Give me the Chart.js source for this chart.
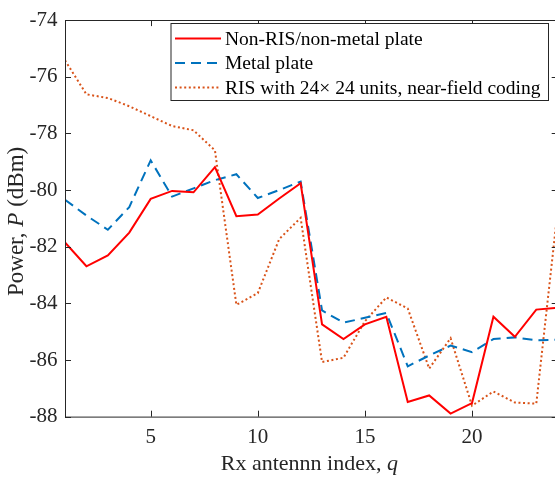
<!DOCTYPE html>
<html><head><meta charset="utf-8">
<script src="https://cdn.jsdelivr.net/npm/chart.js@4/dist/chart.umd.min.js"></script>
<style>html,body{margin:0;padding:0;overflow:hidden;background:#fff;width:555px;height:477px}canvas{display:block}</style>
</head><body>
<canvas id="c" width="560" height="477"></canvas>
<script>
// ---- data ----
const qIndex = [1,2,3,4,5,6,7,8,9,10,11,12,13,14,15,16,17,18,19,20,21,22,23,24];
const nonRIS = [-81.85,-82.69,-82.31,-81.5,-80.31,-80.03,-80.08,-79.19,-80.92,-80.86,-80.3,-79.76,
                -84.74,-85.26,-84.74,-84.47,-87.48,-87.25,-87.89,-87.52,-84.47,-85.18,-84.22,-84.15];
const metalPlate = [-80.34,-80.9,-81.4,-80.6,-78.95,-80.23,-79.94,-79.65,-79.44,-80.28,-80.0,-79.7,
                    -84.25,-84.68,-84.51,-84.34,-86.22,-85.84,-85.49,-85.72,-85.26,-85.2,-85.3,-85.28];
const risCoding = [-75.42,-76.62,-76.75,-77.04,-77.39,-77.74,-77.89,-78.6,-84.05,-83.64,-81.73,-80.98,
                   -86.07,-85.92,-84.63,-83.79,-84.18,-86.3,-85.23,-87.61,-87.11,-87.5,-87.54,-80.7];
const seriesNames = ['Non-RIS/non-metal plate','Metal plate','RIS with 24\u00D7 24 units, near-field coding'];
const xTicks = [5,10,15,20];
const yTicks = [-88,-86,-84,-82,-80,-78,-76,-74];
const xTitle = ['Rx antennn index, ', 'q'];
const yTitle = ['Power, ', 'P', ' (dBm)'];

const FONT = "'Liberation Serif', 'Times New Roman', serif";
const AX = '#262626';
Chart.defaults.font.family = FONT;

const toPts = arr => arr.map((v,i)=>({x:qIndex[i], y:v}));

const framePlugin = {
  id:'frame',
  afterDraw(chart){
    const ctx = chart.ctx, a = chart.chartArea;
    const xs = chart.scales.x, ys = chart.scales.y;
    ctx.save();
    // box
    ctx.strokeStyle = AX; ctx.lineWidth = 1;
    ctx.strokeRect(Math.round(a.left)+0.5, Math.round(a.top)+0.5, a.right-a.left, a.bottom-a.top);
    // inner ticks
    const TL = 6;
    ctx.beginPath();
    xTicks.forEach(v=>{
      const px = Math.round(xs.getPixelForValue(v))+0.5;
      ctx.moveTo(px, a.bottom); ctx.lineTo(px, a.bottom-TL);
      ctx.moveTo(px, a.top); ctx.lineTo(px, a.top+TL);
    });
    yTicks.forEach(v=>{
      const py = Math.round(ys.getPixelForValue(v))+0.5;
      ctx.moveTo(a.left, py); ctx.lineTo(a.left+TL, py);
      ctx.moveTo(a.right, py); ctx.lineTo(a.right-TL, py);
    });
    ctx.stroke();

    // x title
    ctx.fillStyle = AX;
    ctx.textBaseline = 'alphabetic';
    ctx.textAlign = 'left';
    const fN = "22px " + FONT, fI = "italic 22px " + FONT;
    ctx.font = fN; const w0 = ctx.measureText(xTitle[0]).width;
    ctx.font = fI; const w1 = ctx.measureText(xTitle[1]).width;
    let sx = (a.left + a.right)/2 - (w0+w1)/2 - 2;
    ctx.font = fN; ctx.fillText(xTitle[0], sx, 470);
    ctx.font = fI; ctx.fillText(xTitle[1], sx+w0, 470);

    // y title
    const gN = "23px " + FONT, gI = "italic 23px " + FONT;
    ctx.font = gN; const v0 = ctx.measureText(yTitle[0]).width, v2 = ctx.measureText(yTitle[2]).width;
    ctx.font = gI; const v1 = ctx.measureText(yTitle[1]).width;
    ctx.save();
    ctx.translate(23, (a.top+a.bottom)/2 + 3);
    ctx.rotate(-Math.PI/2);
    let ty = -(v0+v1+v2)/2;
    ctx.font = gN; ctx.fillText(yTitle[0], ty, 0);
    ctx.font = gI; ctx.fillText(yTitle[1], ty+v0, 0);
    ctx.font = gN; ctx.fillText(yTitle[2], ty+v0+v1, 0);
    ctx.restore();

    // legend
    const lx = 170.5, ly = 23, lw = 377.5, lh = 77;
    ctx.fillStyle = '#fff';
    ctx.fillRect(lx, ly, lw, lh);
    ctx.strokeStyle = AX; ctx.lineWidth = 1;
    ctx.strokeRect(lx+0.5, ly+0.5, lw, lh);
    const rows = [38.5, 63, 87.5];
    ctx.font = "19.5px " + FONT;
    ctx.textBaseline = 'middle';
    chart.data.datasets.forEach((ds,i)=>{
      const y = rows[i];
      ctx.save();
      ctx.strokeStyle = ds.borderColor; ctx.lineWidth = ds.borderWidth;
      ctx.setLineDash(ds.borderDash || []);
      ctx.lineCap = 'butt';
      ctx.beginPath(); ctx.moveTo(175, y); ctx.lineTo(221, y); ctx.stroke();
      ctx.restore();
      ctx.fillStyle = '#000';
      ctx.fillText(ds.label, 225, y+1);
    });
    ctx.restore();
  }
};

new Chart(document.getElementById('c'), {
  type:'line',
  data:{
    datasets:[
      {label:seriesNames[0], data:toPts(nonRIS), borderColor:'#FF0000', borderWidth:2, pointRadius:0, tension:0, fill:false},
      {label:seriesNames[1], data:toPts(metalPlate), borderColor:'#0072BD', borderWidth:2, borderDash:[10,6], pointRadius:0, tension:0, fill:false},
      {label:seriesNames[2], data:toPts(risCoding), borderColor:'#D95319', borderWidth:2, borderDash:[2,2.6], pointRadius:0, tension:0, fill:false}
    ]
  },
  plugins:[framePlugin],
  options:{
    responsive:false, animation:false, devicePixelRatio:1,
    layout:{padding:{left:0, top:14, right:2.3, bottom:0}},
    plugins:{legend:{display:false}, tooltip:{enabled:false}, title:{display:false}},
    scales:{
      x:{type:'linear', min:1, max:24,
         grid:{display:false, drawTicks:false, tickLength:0}, border:{display:false},
         ticks:{font:{size:21, family:FONT}, color:AX, padding:8, maxRotation:0, autoSkip:false},
         afterBuildTicks:s=>{ s.ticks = xTicks.map(v=>({value:v})); },
         afterFit:s=>{ s.height = 60.3; }},
      y:{type:'linear', min:-88, max:-74,
         grid:{display:false, drawTicks:false, tickLength:0}, border:{display:false},
         ticks:{font:{size:21, family:FONT}, color:AX, padding:7.5, autoSkip:false},
         afterBuildTicks:s=>{ s.ticks = yTicks.map(v=>({value:v})); },
         afterFit:s=>{ s.width = 65; }}
    }
  }
});
</script>
</body></html>
